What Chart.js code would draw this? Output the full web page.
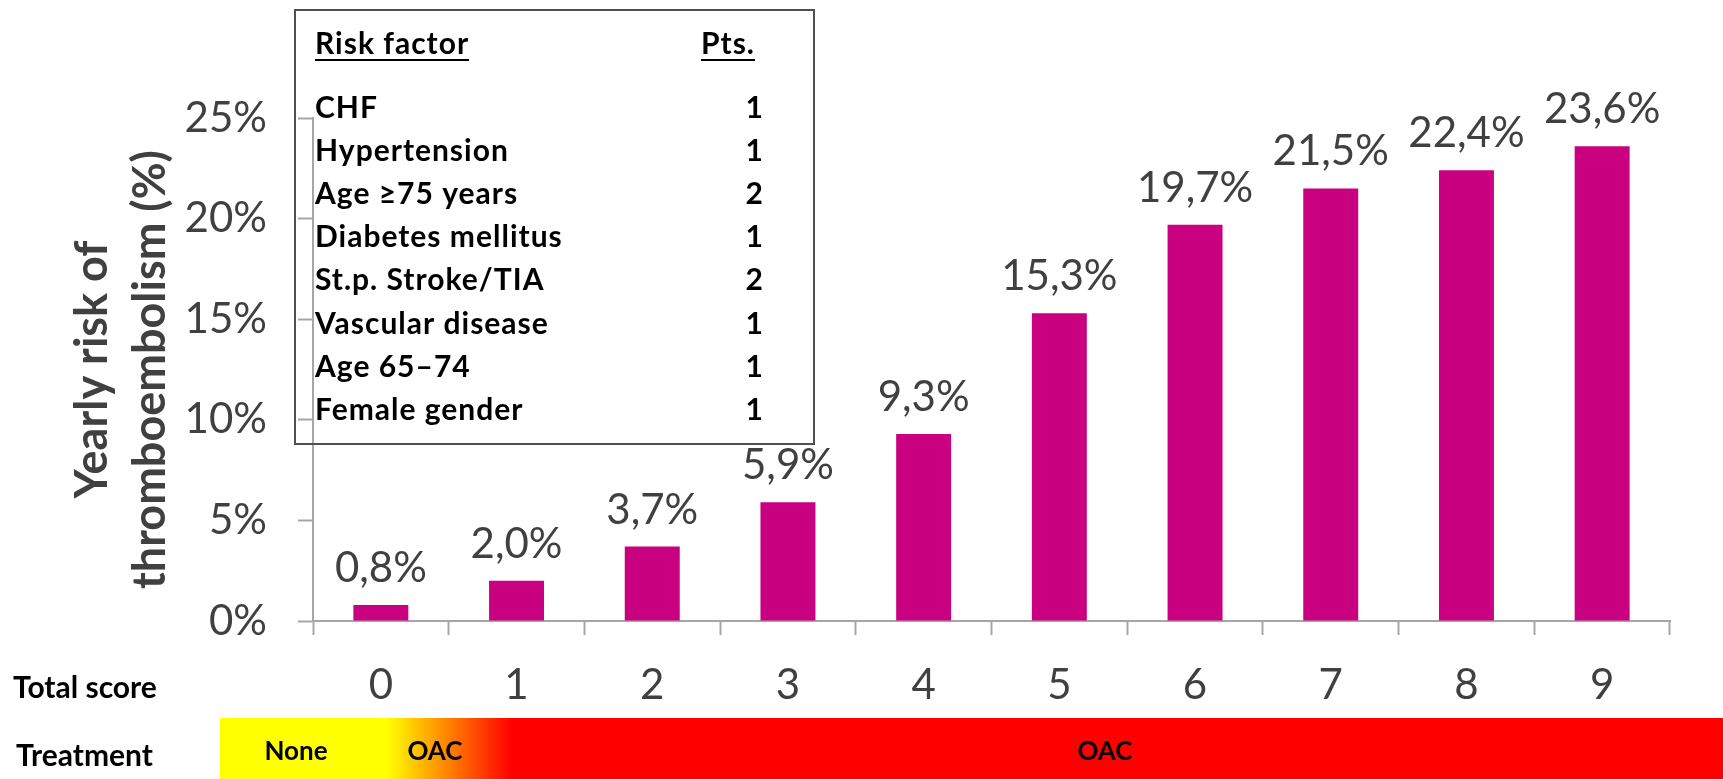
<!DOCTYPE html>
<html>
<head>
<meta charset="utf-8">
<script src="https://cdn.jsdelivr.net/npm/chart.js@4.4.0/dist/chart.umd.min.js"></script>
<style>
  body { margin: 0; background: #fff; }
  #chart { display: block; }
</style>
</head>
<body>
<canvas id="chart" width="1723" height="779"></canvas>
<script>
// data
var scores = ['0', '1', '2', '3', '4', '5', '6', '7', '8', '9'];
var yearlyRisk = [0.8, 2.0, 3.7, 5.9, 9.3, 15.3, 19.7, 21.5, 22.4, 23.6];
var riskFactors = ['CHF', 'Hypertension', 'Age \u226575 years', 'Diabetes mellitus',
  'St.p. Stroke/TIA', 'Vascular disease', 'Age 65\u201374', 'Female gender'];
var riskPoints = [1, 1, 2, 1, 2, 1, 1, 1];
var yTitle = ['Yearly risk of', 'thromboembolism (%)'];

var textGrey = '#404040';
var axisGrey = '#a6a6a6';
var barColor = '#c9007f';

function pct(v) {
  return v.toFixed(1).replace('.', ',') + '%';
}

// value labels above bars
var valueLabels = {
  id: 'valueLabels',
  afterDatasetsDraw: function(chart) {
    var ctx = chart.ctx;
    var meta = chart.getDatasetMeta(0);
    ctx.save();
    ctx.font = '42px Lato';
    ctx.fillStyle = textGrey;
    ctx.textAlign = 'center';
    ctx.textBaseline = 'alphabetic';
    meta.data.forEach(function(bar, i) {
      ctx.fillText(pct(yearlyRisk[i]), bar.x, bar.y - 23);
    });
    ctx.restore();
  }
};

// the score table box + bottom rows
var extras = {
  id: 'extras',
  afterDraw: function(chart) {
    var ctx = chart.ctx;
    ctx.save();

    // table box
    ctx.strokeStyle = '#505050';
    ctx.lineWidth = 2;
    ctx.strokeRect(295, 10, 519, 434);

    ctx.fillStyle = '#000';
    ctx.font = 'bold 30px Lato';
    ctx.letterSpacing = '1px';
    ctx.textBaseline = 'alphabetic';
    ctx.textAlign = 'left';
    ctx.fillText('Risk factor', 315, 54);
    var w = ctx.measureText('Risk factor').width;
    ctx.fillRect(315, 59, w, 2);
    ctx.textAlign = 'right';
    ctx.fillText('Pts.', 755, 54);
    w = ctx.measureText('Pts.').width;
    ctx.fillRect(755 - w, 59, w, 2);

    for (var i = 0; i < riskFactors.length; i++) {
      var y = 118 + i * 43.1;
      ctx.textAlign = 'left';
      ctx.fillText(riskFactors[i], 315, y);
      ctx.textAlign = 'right';
      ctx.fillText(String(riskPoints[i]), 764, y);
    }
    ctx.letterSpacing = '0px';

    // treatment band
    var g = ctx.createLinearGradient(220, 0, 1723, 0);
    var span = 1723 - 220;
    g.addColorStop(0, '#ffff00');
    g.addColorStop((387 - 220) / span, '#ffff00');
    g.addColorStop((512 - 220) / span, '#ff0000');
    g.addColorStop(1, '#ff0000');
    ctx.fillStyle = g;
    ctx.fillRect(220, 718, span, 61);

    ctx.fillStyle = '#000';
    ctx.font = 'bold 26px Lato';
    ctx.textAlign = 'center';
    ctx.textBaseline = 'middle';
    ctx.fillText('None', 296, 752);
    ctx.fillText('OAC', 435, 752);
    ctx.fillText('OAC', 1105, 752);

    ctx.font = 'bold 30px Lato';
    ctx.textAlign = 'left';
    ctx.fillText('Total score', 13, 688);
    ctx.fillText('Treatment', 16, 756);

    ctx.restore();
  }
};

var myChart = new Chart(document.getElementById('chart'), {
  type: 'bar',
  data: {
    labels: scores,
    datasets: [{
      data: yearlyRisk,
      backgroundColor: barColor,
      barPercentage: 0.405,
      categoryPercentage: 1
    }]
  },
  options: {
    responsive: false,
    animation: false,
    devicePixelRatio: 1,
    layout: { padding: { top: 118, right: 53, bottom: 0, left: 0 } },
    plugins: {
      legend: { display: false },
      tooltip: { enabled: false }
    },
    scales: {
      x: {
        grid: { drawOnChartArea: false, tickLength: 14, tickWidth: 2, tickColor: axisGrey },
        border: { color: axisGrey, width: 2 },
        ticks: { font: { family: 'Lato', size: 42 }, color: textGrey, padding: 25 },
        afterFit: function(scale) { scale.height = 779 - 621; }
      },
      y: {
        min: 0,
        max: 25,
        ticks: {
          stepSize: 5,
          font: { family: 'Lato', size: 42 },
          color: textGrey,
          padding: 31,
          callback: function(v) { return v + '%'; }
        },
        grid: { drawOnChartArea: false, tickLength: 15, tickWidth: 2, tickColor: axisGrey },
        border: { color: axisGrey, width: 2 },
        title: {
          display: true,
          text: yTitle,
          color: textGrey,
          font: { family: 'Lato', size: 45, weight: 'bold', lineHeight: 1.29 },
          padding: { top: 63, bottom: 0 }
        },
        afterFit: function(scale) { scale.width = 313; }
      }
    }
  },
  plugins: [valueLabels, extras]
});
</script>
</body>
</html>
